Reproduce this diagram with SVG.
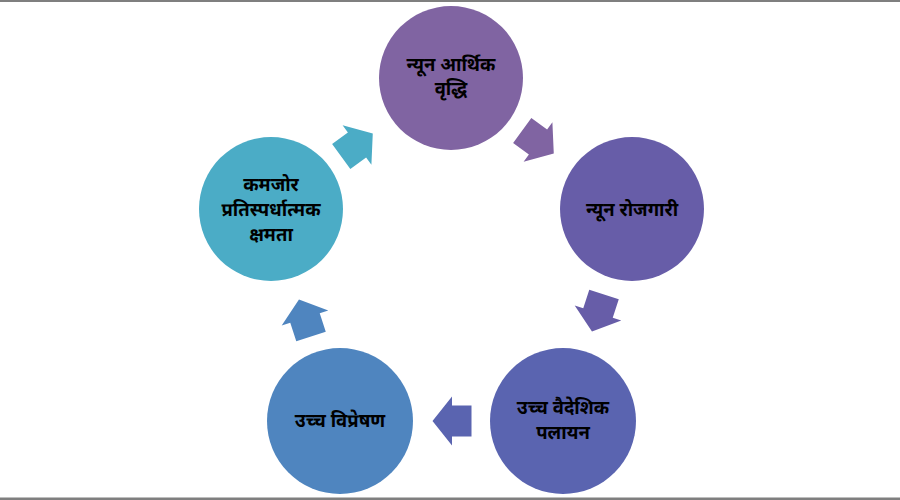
<svg xmlns="http://www.w3.org/2000/svg" width="900" height="500" viewBox="0 0 900 500">
<style>
.lbl{font-family:"Noto Sans Devanagari","Lohit Devanagari","Mangal","Noto Sans",sans-serif;font-size:18.5px;font-weight:bold;fill:#000;text-anchor:middle}
</style>
<defs>
<polygon id="arr" points="-19.5,-15.5 0,-15.5 0,-24.5 19.5,0 0,24.5 0,15.5 -19.5,15.5"/>
</defs>
<rect x="0" y="0" width="900" height="500" fill="#fff"/>
<rect x="0" y="0" width="900" height="2" fill="#7f7f7f"/>
<rect x="0" y="497.5" width="900" height="2.5" fill="#7f7f7f"/>
<g id="connectors">
<use href="#arr" fill="#8064A2" transform="translate(538,142) rotate(36)"/>
<use href="#arr" fill="#675DA8" transform="translate(598,313) rotate(108)"/>
<use href="#arr" fill="#5A64B0" transform="translate(452,421) rotate(180)"/>
<use href="#arr" fill="#4F85BF" transform="translate(305,318) rotate(252)"/>
<use href="#arr" fill="#4BACC6" transform="translate(357,145) rotate(-36)"/>
</g>
<g id="n1">
<circle cx="451" cy="78" r="72" fill="#8064A2"/>
<text class="lbl" x="451" y="71">न्यून आर्थिक</text>
<text class="lbl" x="451" y="95">वृद्धि</text>
</g>
<g id="n2">
<circle cx="632" cy="209" r="72" fill="#675DA8"/>
<text class="lbl" x="632" y="216">न्यून रोजगारी</text>
</g>
<g id="n3">
<circle cx="563" cy="421" r="73" fill="#5A64B0"/>
<text class="lbl" x="563" y="414">उच्च वैदेशिक</text>
<text class="lbl" x="563" y="439">पलायन</text>
</g>
<g id="n4">
<circle cx="340" cy="421" r="73" fill="#4F85BF"/>
<text class="lbl" x="340" y="427">उच्च विप्रेषण</text>
</g>
<g id="n5">
<circle cx="271" cy="209" r="72" fill="#4BACC6"/>
<text class="lbl" x="271" y="191">कमजोर</text>
<text class="lbl" x="271" y="216">प्रतिस्पर्धात्मक</text>
<text class="lbl" x="271" y="241">क्षमता</text>
</g>
</svg>
